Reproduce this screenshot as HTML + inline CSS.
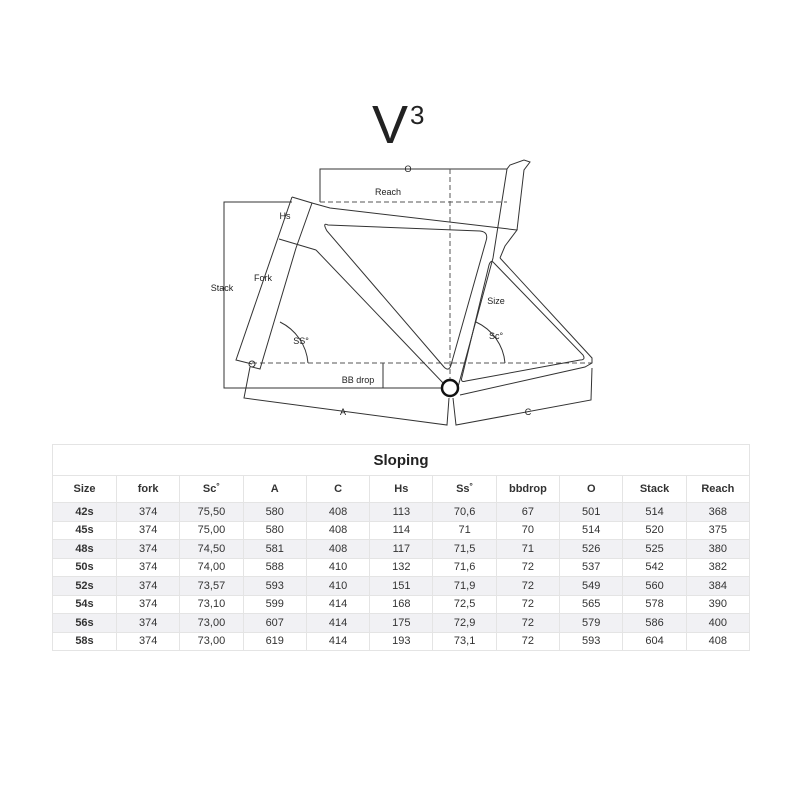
<!DOCTYPE html>
<html><head><style>
body{margin:0;width:800px;height:800px;background:#fff;overflow:hidden;font-family:"Liberation Sans",sans-serif;}
svg{position:absolute;left:0;top:0}
table{position:absolute;left:52px;top:444px;border-collapse:collapse;width:698px;table-layout:fixed;font-size:11px;color:#333}
td{border:1px solid #e4e4e4;text-align:center;height:17.5px;padding:0}
tr.h td{font-weight:bold;height:26px;color:#333}
tr.t td{font-weight:bold;font-size:15px;height:30px;color:#222}
tr.g td{background:#f1f1f4}
td.b{font-weight:bold}
</style></head><body>
<svg width="800" height="440" viewBox="0 0 800 440" font-family="Liberation Sans, sans-serif">
<text x="372" y="143" font-size="54" fill="#222" style="font-weight:300">V</text>
<text x="410" y="124" font-size="26" fill="#222">3</text>
<g fill="none" stroke="#333" stroke-width="1">
<polyline points="320,202 320,169 507,169"/>
<polyline points="292,202 224,202 224,388 445,388"/>
<line x1="383" y1="363" x2="383" y2="388"/>
<g stroke-dasharray="5,3" stroke="#555">
<line x1="320" y1="202" x2="507" y2="202"/>
<line x1="450" y1="169" x2="450" y2="383"/>
<line x1="252" y1="363" x2="592" y2="363"/>
</g>
<!-- head tube / fork -->
<polyline points="292,197 312,203 296,248 260,369 252,367"/>
<polyline points="292,197 236,360 252,364"/>
<line x1="279" y1="239" x2="316" y2="250"/>
<circle cx="252" cy="364" r="3"/>
<!-- top tube & down tube -->
<polyline points="312,203 330,208 517,230 505,246 500,258"/>
<polyline points="316,250 445,385"/>
<path d="M328,225 Q322,222 327,231 L444,367 Q449,372 451,365 L486,241 Q489,232 480,231 Z"/>
<!-- seat tube -->
<polyline points="458,387 493,258 507,169 510,165 524,160 530,162 524,170 517,230"/>
<polyline points="460,395 585,367 592,363 592,358 500,258"/>
<path d="M494,263 L583,355 Q586,360 580,360 L466,381 Q460,383 462,377 L489,265 Q491,259 494,263 Z"/>
<!-- A and C -->
<polyline points="250,367 244,398 447,425 449,398"/>
<polyline points="453,398 456,425 591,400 592,368"/>
<!-- angles -->
<path d="M280,322 A50,50 0 0 1 308,363"/>
<path d="M476,322 A50,50 0 0 1 505,363"/>
</g>
<circle cx="450" cy="388" r="8" fill="#fff" stroke="#111" stroke-width="2.5"/>
<g font-size="9" fill="#222" text-anchor="middle">
<text x="408" y="172">O</text>
<text x="388" y="195">Reach</text>
<text x="285" y="219">Hs</text>
<text x="263" y="281">Fork</text>
<text x="222" y="291">Stack</text>
<text x="301" y="344">SS°</text>
<text x="358" y="383">BB drop</text>
<text x="496" y="304">Size</text>
<text x="496" y="339">Sc°</text>
<text x="343" y="415">A</text>
<text x="528" y="415">C</text>
</g>
</svg>
<table>
<colgroup><col style="width:64px"><col span="10"></colgroup>
<tr class="t"><td colspan="11">Sloping</td></tr>
<tr class="h"><td>Size</td><td>fork</td><td>Sc˚</td><td>A</td><td>C</td><td>Hs</td><td>Ss˚</td><td>bbdrop</td><td>O</td><td>Stack</td><td>Reach</td></tr>
<tr class="g"><td class="b">42s</td><td>374</td><td>75,50</td><td>580</td><td>408</td><td>113</td><td>70,6</td><td>67</td><td>501</td><td>514</td><td>368</td></tr>
<tr><td class="b">45s</td><td>374</td><td>75,00</td><td>580</td><td>408</td><td>114</td><td>71</td><td>70</td><td>514</td><td>520</td><td>375</td></tr>
<tr class="g"><td class="b">48s</td><td>374</td><td>74,50</td><td>581</td><td>408</td><td>117</td><td>71,5</td><td>71</td><td>526</td><td>525</td><td>380</td></tr>
<tr><td class="b">50s</td><td>374</td><td>74,00</td><td>588</td><td>410</td><td>132</td><td>71,6</td><td>72</td><td>537</td><td>542</td><td>382</td></tr>
<tr class="g"><td class="b">52s</td><td>374</td><td>73,57</td><td>593</td><td>410</td><td>151</td><td>71,9</td><td>72</td><td>549</td><td>560</td><td>384</td></tr>
<tr><td class="b">54s</td><td>374</td><td>73,10</td><td>599</td><td>414</td><td>168</td><td>72,5</td><td>72</td><td>565</td><td>578</td><td>390</td></tr>
<tr class="g"><td class="b">56s</td><td>374</td><td>73,00</td><td>607</td><td>414</td><td>175</td><td>72,9</td><td>72</td><td>579</td><td>586</td><td>400</td></tr>
<tr><td class="b">58s</td><td>374</td><td>73,00</td><td>619</td><td>414</td><td>193</td><td>73,1</td><td>72</td><td>593</td><td>604</td><td>408</td></tr>
</table>
</body></html>
